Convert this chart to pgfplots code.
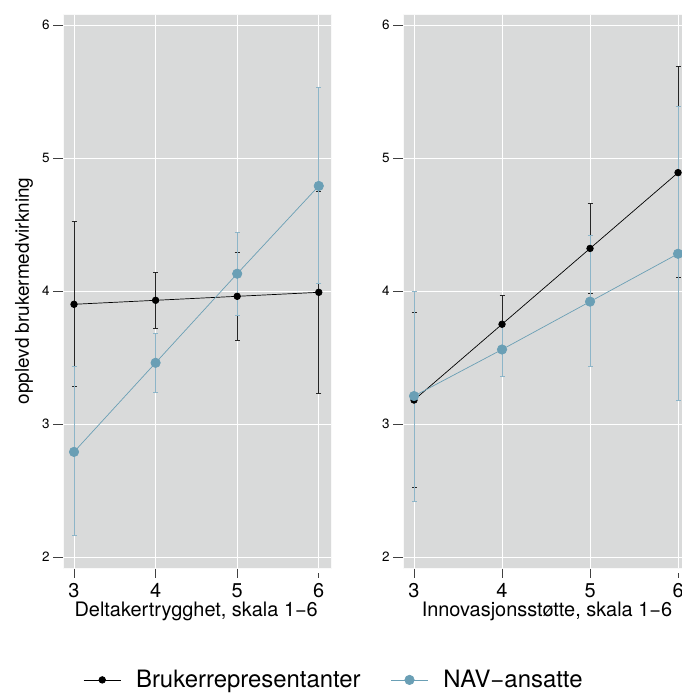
\documentclass[border=0pt]{standalone}
\usepackage{fontspec}
\setmainfont{TeX Gyre Heros}
\usepackage{pgfplots}
\usepackage{pgfplotstable}
\pgfplotsset{compat=1.18}

\definecolor{panelbg}{HTML}{D9DADA}
\definecolor{navblue}{HTML}{6A9FB5}
\definecolor{navbar}{HTML}{8DB5C8}

% x  mean  lower  upper
\pgfplotstableread{
x y lo hi
3 3.90 3.28 4.52
4 3.93 3.72 4.14
5 3.96 3.63 4.29
6 3.99 3.23 4.75
}\leftbruker
\pgfplotstableread{
x y lo hi
3 2.79 2.16 3.43
4 3.46 3.24 3.68
5 4.13 3.82 4.44
6 4.79 4.06 5.53
}\leftnav
\pgfplotstableread{
x y lo hi
3 3.18 2.52 3.84
4 3.75 3.54 3.97
5 4.32 3.98 4.66
6 4.89 4.10 5.69
}\rightbruker
\pgfplotstableread{
x y lo hi
3 3.21 2.42 4.00
4 3.56 3.36 3.76
5 3.92 3.43 4.42
6 4.28 3.18 5.39
}\rightnav

\pgfplotsset{
  panel/.style={
    scale only axis,
    anchor=south west,
    height=554bp,
    ymin=1.917, ymax=6.083,
    ytick={2,3,4,5,6},
    xtick={3,4,5,6},
    axis background/.style={fill=panelbg},
    grid=major,
    major grid style={white, line width=0.9bp},
    axis line style={white!85!panelbg, line width=0.8bp},
    tick align=outside,
    tick pos=lower,
    major tick length=10bp,
    xtick style={black!75, line width=0.6bp, shorten >=5bp},
    ytick style={black!75, line width=0.6bp},
    /pgf/number format/assume math mode=true,
    yticklabel style={font=\fontsize{13.5}{16}\selectfont},
    xticklabel style={font=\fontsize{20}{22}\selectfont, anchor=base, yshift=-19.5bp},
    xlabel style={font=\fontsize{20}{22}\selectfont, anchor=base},
    ylabel style={font=\fontsize{19}{22}\selectfont},
  },
  bruker/.style={black, line width=0.7bp, mark=*, mark size=3.3bp,
    mark options={solid, fill=black},
    error bars/.cd, y dir=both, y explicit,
    error bar style={black!85, line width=0.8bp},
    error mark options={black!85, line width=0.8bp, mark size=2.5bp, rotate=90}},
  nav/.style={navblue, line width=0.7bp, mark=*, mark size=4.7bp,
    mark options={solid, fill=navblue, draw=navblue},
    error bars/.cd, y dir=both, y explicit,
    error bar style={navbar, line width=0.8bp},
    error mark options={navbar, line width=0.8bp, mark size=2.5bp, rotate=90}},
}

\begin{document}
\begin{tikzpicture}[x=1bp, y=1bp]
\path[use as bounding box] (0,0) rectangle (682,693);

\begin{axis}[panel,
  at={(63bp,125bp)}, width=268bp,
  xmin=2.865, xmax=6.15,
  xlabel={Deltakertrygghet, skala 1−6},
  xlabel style={at={(axis description cs:0.497,-0.0875)}},
  ylabel={opplevd brukermedvirkning},
  ylabel style={at={(axis description cs:-0.1455,0.5)}, anchor=center},
  legend columns=2,
  legend style={at={(1.011,-0.202)}, anchor=center, draw=none, fill=none,
    font=\fontsize{24}{26}\selectfont,
    /tikz/every odd column/.append style={column sep=13bp},
    /tikz/every even column/.append style={column sep=28bp}},
  legend image code/.code={\draw[mark repeat=2, mark phase=2]
    plot coordinates {(0bp,0bp) (18.5bp,0bp) (37bp,0bp)};},
]
\addplot+[bruker] table[x=x, y=y,
  y error plus expr=\thisrow{hi}-\thisrow{y},
  y error minus expr=\thisrow{y}-\thisrow{lo}] {\leftbruker};
\addlegendentry{Brukerrepresentanter}
\addplot+[nav] table[x=x, y=y,
  y error plus expr=\thisrow{hi}-\thisrow{y},
  y error minus expr=\thisrow{y}-\thisrow{lo}] {\leftnav};
\addlegendentry{NAV−ansatte}
\end{axis}

\begin{axis}[panel,
  at={(403bp,125bp)}, width=279bp,
  xmin=2.875, xmax=6.045,
  xlabel={Innovasjonsstøtte, skala 1−6},
  xlabel style={at={(axis description cs:0.516,-0.0875)}},
]
\addplot+[bruker] table[x=x, y=y,
  y error plus expr=\thisrow{hi}-\thisrow{y},
  y error minus expr=\thisrow{y}-\thisrow{lo}] {\rightbruker};
\addplot+[nav] table[x=x, y=y,
  y error plus expr=\thisrow{hi}-\thisrow{y},
  y error minus expr=\thisrow{y}-\thisrow{lo}] {\rightnav};
\end{axis}
\end{tikzpicture}
\end{document}
